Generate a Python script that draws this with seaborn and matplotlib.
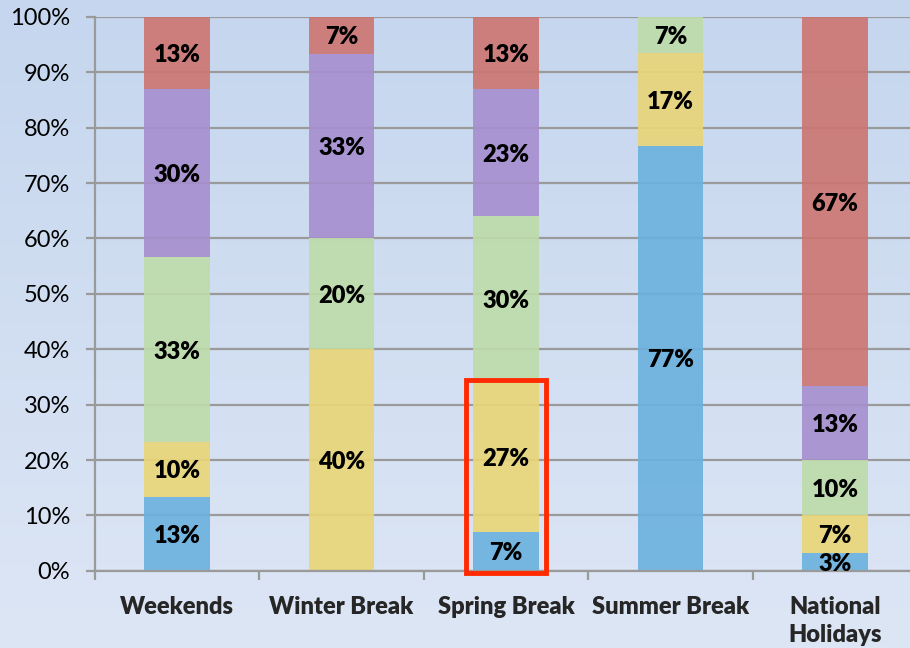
import numpy as np
import pandas as pd
import matplotlib.pyplot as plt
import seaborn as sns
from matplotlib.patches import Rectangle
from matplotlib.colors import LinearSegmentedColormap
from matplotlib.ticker import PercentFormatter

# data (percent of responses)
categories = ["Weekends", "Winter Break", "Spring Break", "Summer Break", "National\nHolidays"]
blue = [13.3, 0.0, 7.0, 76.7, 3.3]
yellow = [10.0, 40.0, 27.0, 16.7, 6.7]
green = [33.3, 20.0, 30.0, 6.7, 10.0]
purple = [30.3, 33.3, 23.0, 0.0, 13.3]
red = [13.1, 6.7, 13.0, 0.0, 66.7]

series = [blue, yellow, green, purple, red]
colors = ["#6ab1de", "#e9d576", "#bddca9", "#a68ece", "#cc7570"]

sns.set_style("white")
plt.rcParams["font.family"] = ["Lato", "DejaVu Sans"]

fig = plt.figure(figsize=(9.1, 6.48), dpi=100)

# gradient background
bg = fig.add_axes([0, 0, 1, 1], zorder=-1)
grad = LinearSegmentedColormap.from_list("bg", ["#c5d6ee", "#dde6f5"])
bg.imshow(np.linspace(0, 1, 256).reshape(-1, 1), aspect="auto", cmap=grad,
          extent=[0, 1, 0, 1])
bg.axis("off")

ax = fig.add_axes([0.104, 0.119, 0.904, 0.855])
ax.set_facecolor("none")

bottom = np.zeros(len(categories))
for vals, col in zip(series, colors):
    df = pd.DataFrame({"cat": categories, "val": vals})
    sns.barplot(data=df, x="cat", y="val", color=col, width=0.4, bottom=bottom,
                saturation=1, alpha=0.9, linewidth=0, ax=ax, zorder=2)
    cont = ax.containers[-1]
    labels = [f"{round(v):.0f}%" if v > 0 else "" for v in vals]
    txts = ax.bar_label(cont, labels=labels, label_type="center",
                        fontsize=17, fontweight="heavy", color="black")
    for t in txts:
        t.set_va("center_baseline")
    bottom = bottom + np.array(vals)

ax.set_ylim(0, 100)
ax.set_xlim(-0.5, 4.5)
ax.yaxis.set_major_formatter(PercentFormatter(decimals=0))
ax.set_yticks(range(0, 101, 10))
ax.grid(axis="y", color="#9a9a9a", linewidth=1.6, zorder=1)
ax.set_axisbelow(True)
for s in ["top", "right"]:
    ax.spines[s].set_visible(False)
ax.spines["left"].set_color("#9a9a9a")
ax.spines["left"].set_linewidth(1.6)
ax.spines["bottom"].set_color("#9a9a9a")
ax.spines["bottom"].set_linewidth(1.6)

ax.tick_params(axis="y", length=6.5, width=1.6, color="#9a9a9a", pad=11,
               labelsize=17, labelcolor="black", left=True)
ax.tick_params(axis="x", which="major", length=0, pad=18, labelsize=17)
ax.set_xticks(np.arange(-0.5, 5, 1), minor=True)
ax.tick_params(axis="x", which="minor", length=6.5, width=1.6, color="#9a9a9a",
               bottom=True, direction="out")
for t in ax.get_xticklabels():
    t.set_fontweight("heavy")
    t.set_verticalalignment("top")
    t.set_linespacing(1.35)
ax.set_xlabel("")
ax.set_ylabel("")

# highlight box around Spring Break's lower segments
ax.add_patch(Rectangle((2 - 0.245, -0.4), 0.49, 34.9, fill=False,
                       edgecolor="#ff2a00", linewidth=3.5, clip_on=False, zorder=5))

plt.savefig("out.png", dpi=100)
plt.close()
